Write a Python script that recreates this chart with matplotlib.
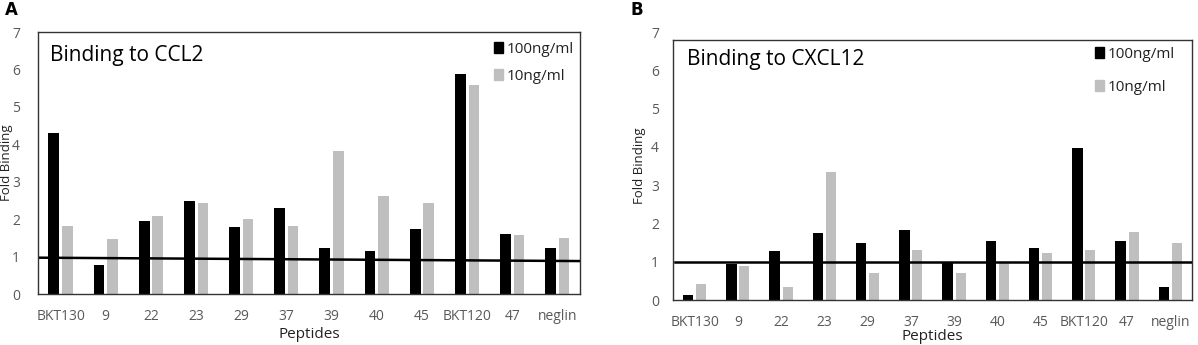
import numpy as np
import matplotlib
matplotlib.use("Agg")
import matplotlib.pyplot as plt
from matplotlib.patches import Patch

plt.rcParams['font.family'] = ['Open Sans', 'DejaVu Sans']

peptides = ['BKT130', '9', '22', '23', '29', '37', '39', '40', '45', 'BKT120', '47', 'neglin']

ccl2_100 = [4.30, 0.78, 1.96, 2.48, 1.78, 2.31, 1.24, 1.14, 1.75, 5.88, 1.59, 1.24]
ccl2_10 = [1.83, 1.47, 2.09, 2.42, 2.00, 1.82, 3.82, 2.62, 2.42, 5.59, 1.58, 1.50]
ccl2_line = [0.97, 0.88]

cxcl12_100 = [0.12, 0.93, 1.28, 1.74, 1.50, 1.84, 0.99, 1.54, 1.35, 3.96, 1.53, 0.35]
cxcl12_10 = [0.42, 0.90, 0.35, 3.35, 0.70, 1.30, 0.70, 0.97, 1.24, 1.31, 1.78, 1.50]
cxcl12_line = [1.0, 1.0]

W, H = 1198, 345
fig = plt.figure(figsize=(W / 100, H / 100), dpi=100)

tick_color = '#595959'


def panel(rect, v100, v10, line, title, title_xy, letter, letter_xy,
          ylab_x, xlab_y, ypad, leg_xy, leg_space, top_val):
    l, t, r, b = rect
    ax = fig.add_axes([l / W, (H - b) / H, (r - l) / W, (b - t) / H])
    x = np.arange(len(peptides))
    ax.bar(x - 0.15, v100, width=0.24, color='black')
    ax.bar(x + 0.15, v10, width=0.23, color='#bfbfbf')
    ax.plot([-0.45, len(peptides) - 0.5], line, color='black', lw=1.8, zorder=3)
    ax.set_xlim(-0.5, len(peptides) - 0.5)
    ax.set_ylim(0, 7)
    ax.set_yticks(range(8))
    ax.set_xticks(x)
    ax.set_xticklabels(peptides)
    ax.tick_params(axis='x', length=0, labelsize=10, labelcolor=tick_color, pad=11)
    ax.tick_params(axis='y', length=0, labelsize=10, labelcolor=tick_color, pad=ypad)
    for s in ax.spines.values():
        s.set_color('#333333')
        s.set_linewidth(1.0)
    ax.spines['top'].set_position(('data', top_val))
    ax.spines['left'].set_bounds(0, top_val)
    ax.spines['right'].set_bounds(0, top_val)
    ax.set_xlabel('Peptides', fontsize=11, color='#222222', va='center')
    ax.xaxis.set_label_coords(0.5, (b - xlab_y) / (b - t))
    ax.set_ylabel('Fold Binding', fontsize=9.5, color='#222222', va='center')
    ax.yaxis.set_label_coords((ylab_x - l) / (r - l), 0.5)
    fig.text(title_xy[0] / W, 1 - title_xy[1] / H, title, fontsize=15,
             color='black', va='center', ha='left')
    handles = [Patch(color='black'), Patch(color='#bfbfbf')]
    fig.legend(handles, ['100ng/ml', '10ng/ml'], loc='upper left',
               bbox_to_anchor=(leg_xy[0] / W, 1 - leg_xy[1] / H),
               bbox_transform=fig.transFigure, frameon=False, fontsize=11,
               handlelength=0.6, handleheight=0.75, handletextpad=0.2,
               labelspacing=leg_space, borderpad=0, borderaxespad=0,
               labelcolor='#222222')
    fig.text(letter_xy[0] / W, 1 - letter_xy[1] / H, letter, fontsize=12,
             fontweight='bold', family='DejaVu Sans', va='center', ha='left')
    return ax


panel((38, 32, 580, 294), ccl2_100, ccl2_10, ccl2_line,
      'Binding to CCL2', (50, 55), 'A', (5, 10), 7, 335, 13,
      (494, 42), 0.8, 7.0)
panel((673, 32, 1192, 300), cxcl12_100, cxcl12_10, cxcl12_line,
      'Binding to CXCL12', (687, 60), 'B', (630, 10), 640, 336, 10,
      (1095, 47), 1.15, 6.78)

fig.savefig('out.png', dpi=100)
